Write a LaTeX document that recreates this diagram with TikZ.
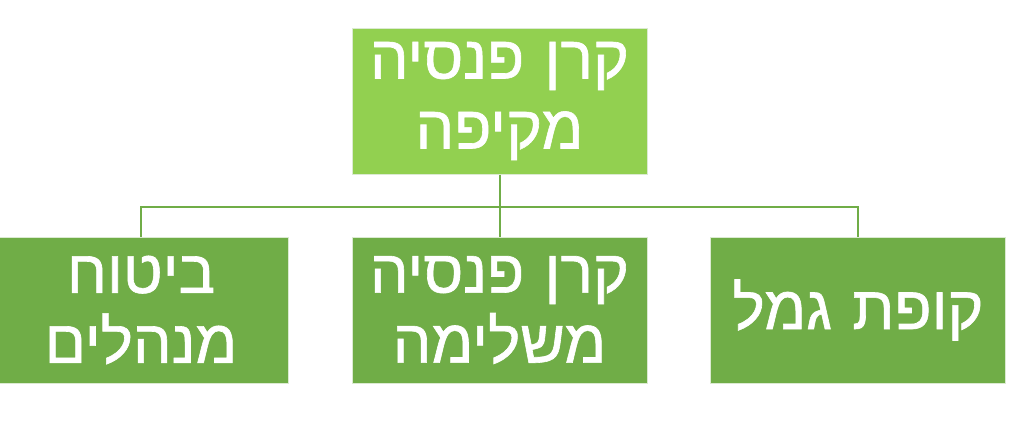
\documentclass[tikz,border=0pt]{standalone}
\usepackage{fontspec}
\newfontfamily\hebfont[Script=Hebrew, FakeBold=1]{Liberation Sans}
\TeXXeTstate=1
\definecolor{lightgreen}{HTML}{92D050}
\definecolor{darkgreen}{HTML}{70AD47}

\begin{document}
\begin{tikzpicture}[x=1pt, y=-1pt,
  box/.style={draw=white!75!darkgreen, line width=1pt, minimum width=295pt, minimum height=146pt,
    inner sep=0pt, text width=285pt, align=center, text=white,
    font=\hebfont\fontsize{61}{70}\selectfont},
  topbox/.style={box, fill=lightgreen},
  subbox/.style={box, fill=darkgreen},
  link/.style={darkgreen, line width=2pt}]
\useasboundingbox (0,0) rectangle (1024,423);
\node[topbox] (pension) at (499.5, 101){{\beginR קרן פנסיה\endR}\\{\beginR מקיפה\endR}};
\node[subbox] (insurance) at (141, 310){{\beginR ביטוח\endR}\\{\beginR מנהלים\endR}};
\node[subbox] (supplement) at (499.5, 310){{\beginR קרן פנסיה\endR}\\{\beginR משלימה\endR}};
\node[subbox] (gemel) at (858, 310){{\beginR קופת גמל\endR}};
\coordinate (split) at (499.5, 206.5);
\draw[link] (pension.south) -- (split);
\draw[link] (split) -| (insurance.north);
\draw[link] (split) -- (supplement.north);
\draw[link] (split) -| (gemel.north);
\end{tikzpicture}
\end{document}
